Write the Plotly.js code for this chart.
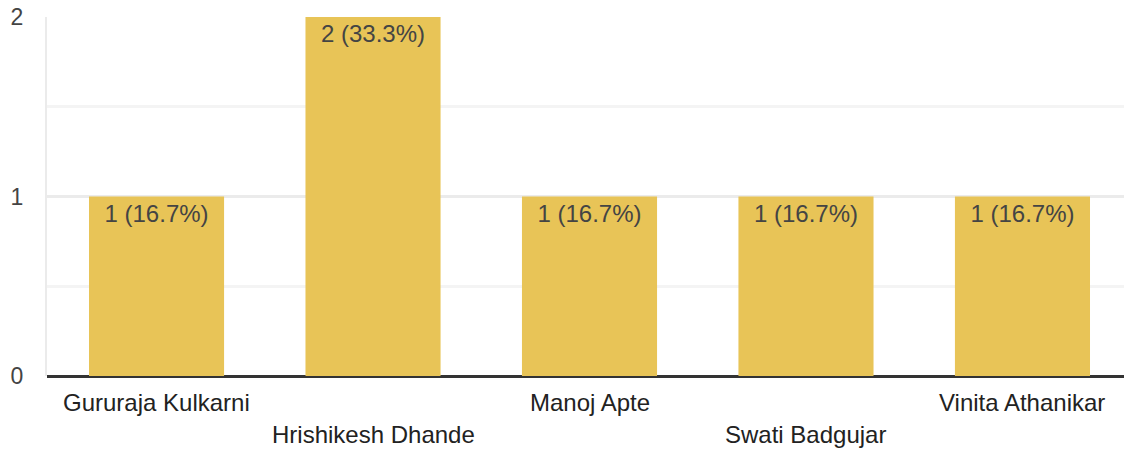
<!DOCTYPE html>
<html>
<head>
<meta charset="utf-8">
<script src="https://cdn.plot.ly/plotly-3.0.1.min.js"></script>
<style>html,body{margin:0;padding:0;background:#fff}#chart{width:1124px;height:452px}</style>
</head>
<body>
<div id="chart"></div>
<script>
const categories = ["Gururaja Kulkarni", "Hrishikesh Dhande", "Manoj Apte", "Swati Badgujar", "Vinita Athanikar"];
const counts = [1, 2, 1, 1, 1];
const yTickValues = [0, 1, 2];
const yTickLabels = ["0", "1", "2"];

const total = counts.reduce((a, b) => a + b, 0);
const barText = counts.map(c => c + " (" + (c / total * 100).toFixed(1) + "%)");
const FONT = "Liberation Sans, Arial, sans-serif";

const trace = {
  type: "bar",
  x: categories,
  y: counts,
  text: barText,
  textposition: "inside",
  insidetextanchor: "end",
  textangle: 0,
  textfont: {family: FONT, size: 24, color: "#444444"},
  marker: {color: "#E8C457"},
  hoverinfo: "skip"
};

const annotations = categories.map((c, i) => ({
  x: c, xref: "x", y: 0, yref: "paper",
  yanchor: "top", xanchor: "center",
  yshift: i % 2 === 0 ? -11 : -43,
  text: c, showarrow: false,
  font: {family: FONT, size: 24, color: "#222222"}
}));

const layout = {
  width: 1124, height: 452,
  margin: {l: 47, r: 0, t: 17, b: 76, pad: 0},
  paper_bgcolor: "#ffffff", plot_bgcolor: "#ffffff",
  bargap: 0.376,
  showlegend: false,
  font: {family: FONT, size: 23, color: "#444444"},
  xaxis: {
    range: [-0.506, 4.469],
    showticklabels: false, showgrid: false, zeroline: false,
    showline: false, ticks: "", fixedrange: true
  },
  yaxis: {
    range: [0, 2], tickvals: yTickValues, ticktext: yTickLabels,
    showgrid: true, gridcolor: "#ebebeb", gridwidth: 3,
    minor: {dtick: 0.5, tick0: 0, showgrid: true, gridcolor: "#f4f4f4", gridwidth: 3},
    zeroline: true, zerolinecolor: "#333333", zerolinewidth: 3,
    showline: true, linecolor: "#ebebeb", linewidth: 2,
    ticks: "", ticklabelstandoff: 17,
    tickfont: {family: FONT, size: 23, color: "#444444"},
    fixedrange: true
  },
  annotations: annotations
};

Plotly.newPlot("chart", [trace], layout, {displayModeBar: false, staticPlot: true});
</script>
</body>
</html>
